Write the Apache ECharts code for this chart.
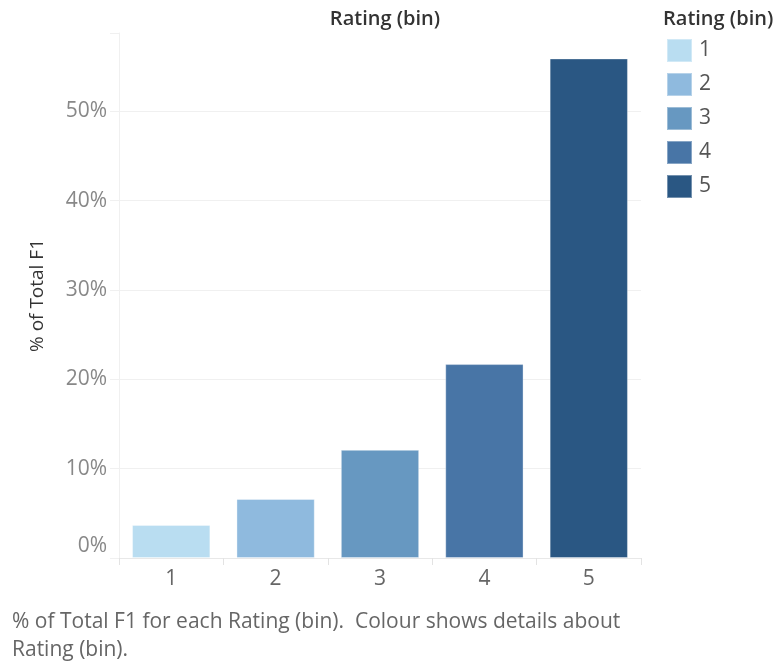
<!DOCTYPE html>
<html>
<head>
<meta charset="utf-8">
<script src="https://cdn.jsdelivr.net/npm/echarts@6/dist/echarts.min.js"></script>
<style>html,body{margin:0;padding:0;background:#fff}#c{width:776px;height:661px}</style>
</head>
<body>
<div id="c"></div>
<script>
var categories = ['1', '2', '3', '4', '5'];
var values = [3.7, 6.6, 12.1, 21.7, 55.9];
var colors = ['#b9ddf1', '#8fbade', '#6798c1', '#4875a6', '#2a5783'];
var yTicks = [0, 10, 20, 30, 40, 50];

var FONT = '"Open Sans", Lato, sans-serif';
var chart = echarts.init(document.getElementById('c'));
var series = categories.map(function (c, i) {
  var d = categories.map(function (_, j) { return j === i ? values[i] : '-'; });
  return {
    name: c, type: 'bar', stack: 'all', data: d, barWidth: '75%',
    itemStyle: { color: colors[i], borderColor: 'rgba(255,255,255,0.35)', borderWidth: 1 },
    emphasis: { disabled: true }
  };
});
chart.setOption({
  animation: false,
  title: [
    { text: 'Rating (bin)', left: 380, top: 4, textAlign: 'center',
      textStyle: { fontFamily: FONT, fontSize: 20, fontWeight: 600, color: '#333' } },
    { text: 'Rating (bin)', left: 658, top: 4,
      textStyle: { fontFamily: FONT, fontSize: 20, fontWeight: 600, color: '#333' } },
    { text: '% of Total F1 for each Rating (bin).  Colour shows details about\nRating (bin).',
      left: 7, top: 603,
      textStyle: { fontFamily: FONT, fontSize: 21, fontWeight: 'normal', color: '#666', lineHeight: 28 } }
  ],
  legend: {
    orient: 'vertical', left: 661, top: 33, itemWidth: 25, itemHeight: 23, itemGap: 9,
    icon: 'rect', data: categories,
    textStyle: { fontFamily: FONT, fontSize: 21, color: '#555', padding: [0, 0, 0, 2] },
    selectedMode: false
  },
  grid: { left: 119, right: 135, top: 33, bottom: 103, containLabel: false },
  xAxis: {
    type: 'category', data: categories,
    axisLine: { lineStyle: { color: '#e8e8e8', width: 1 } },
    axisTick: { show: true, length: 7, lineStyle: { color: '#e3e3e3' } },
    axisLabel: { fontFamily: FONT, fontSize: 21, color: '#666', margin: 11 }
  },
  yAxis: {
    type: 'value', min: 0, max: 58.75, interval: 10,
    name: '% of Total F1', nameLocation: 'middle', nameGap: 72, nameRotate: 90,
    nameTextStyle: { fontFamily: FONT, fontSize: 19, color: '#333' },
    axisLine: { show: true, lineStyle: { color: '#f0f0f0' } },
    axisTick: { show: true, length: 9, lineStyle: { color: '#f0f0f0' } },
    splitLine: { show: true, showMaxLine: false, lineStyle: { color: '#f0f0f0' } },
    axisLabel: {
      fontFamily: FONT, fontSize: 21, color: '#888', margin: 12,
      formatter: function (v) {
        if (yTicks.indexOf(v) < 0) return '';
        if (v === 0) return '{z|0%}';
        return v + '%';
      },
      rich: { z: { fontFamily: FONT, fontSize: 21, color: '#888', padding: [0, 0, 24, 0] } }
    }
  },
  series: series
});
</script>
</body>
</html>
